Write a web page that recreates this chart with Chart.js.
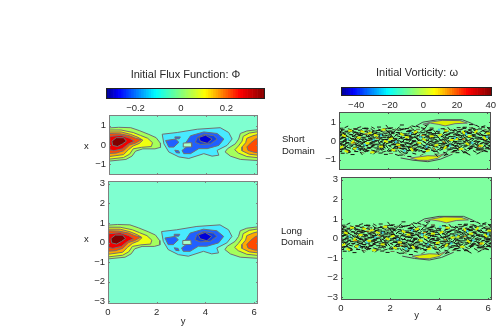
<!DOCTYPE html>
<html><head><meta charset="utf-8">
<script src="https://cdn.jsdelivr.net/npm/chart.js@4"></script>
<style>
html,body{margin:0;padding:0;background:#fff;width:500px;height:327px;overflow:hidden}
canvas{position:absolute;left:0;top:0}
.lb{position:absolute;font:9.5px "Liberation Sans",sans-serif;color:#222;white-space:pre;line-height:11px}
</style></head><body>
<script>
// ---- tick labels
const fluxBarTicks=[-0.2,0,0.2];
const vortBarTicks=[-40,-20,0,20,40];
const shortTicks=[-1,0,1];
const longTicks=[-3,-2,-1,0,1,2,3];
const horizTicks=[0,2,4,6];
const jetStops=['#000090','#0000ff','#00ffff','#ffff00','#ff0000','#800000'];
const jetPos=[0,0.08,0.31,0.62,0.84,1];
// ---- flux contours [y, x]
const fluxRed=[
 {c:'#a4ff5c',p:[[-0.1,.88],[.4,.92],[.9,.9],[1.25,.75],[1.65,.55],[1.95,.38],[2.12,.1],[2.13,-.12],[1.9,-.2],[1.4,-.2],[1.1,-.32],[.95,-.58],[.7,-.75],[-0.1,-.85]]},
 {c:'#eeff10',p:[[-0.1,.78],[.5,.78],[1,.65],[1.3,.5],[1.6,.35],[1.8,.12],[1.75,-.08],[1.35,-.12],[1,-.2],[.85,-.48],[.6,-.65],[-0.1,-.75]]},
 {c:'#ffa800',p:[[-0.1,.68],[.5,.68],[.9,.55],[1.2,.4],[1.4,.25],[1.25,.08],[1,-.05],[.8,-.25],[.6,-.5],[-0.1,-.62]]},
 {c:'#ff4a00',p:[[-0.1,.6],[.45,.58],[.85,.48],[1.1,.35],[1.35,.28],[1.1,.1],[.85,0],[.6,-.3],[.3,-.42],[-0.1,-.45]]},
 {c:'#f00000',p:[[.03,.45],[.5,.5],[.85,.35],[1.05,.2],[.8,.05],[.55,-.2],[.2,-.3],[.03,-.25]]},
 {c:'#800000',p:[[.12,.2],[.3,.38],[.6,.38],[.72,.2],[.55,.05],[.35,-.08],[.15,-.02]]}
];
const fluxEdge=[
 {c:'#a4ff5c',p:[[6.3,.82],[5.7,.73],[5.43,.6],[5.36,.31],[5.22,.06],[4.9,-.19],[4.8,-.36],[5.02,-.58],[5.43,-.75],[6.3,-.82]]},
 {c:'#eeff10',p:[[6.3,.72],[5.8,.62],[5.55,.45],[5.5,.2],[5.35,-.05],[5.2,-.25],[5.35,-.42],[5.7,-.6],[6.3,-.68]]},
 {c:'#ffa800',p:[[6.3,.6],[5.95,.48],[5.7,.35],[5.65,.12],[5.5,-.1],[5.5,-.3],[5.8,-.48],[6.3,-.55]]},
 {c:'#ff4a00',p:[[6.3,.42],[6.05,.3],[5.85,.1],[5.7,-.1],[5.75,-.28],[6,-.38],[6.3,-.42]]}
];
const fluxBlue=[
 {c:'#48eaff',p:[[2.2,.56],[2.82,.65],[3.65,.82],[4.6,.9],[4.95,.65],[5.09,.31],[4.88,-.02],[4.47,-.28],[4.54,-.53],[4.26,-.58],[3.92,-.45],[3.3,-.7],[2.89,-.62],[2.47,-.36],[2.27,.06]]},
 {c:'#2060ff',p:[[3.16,.09],[3.37,.48],[3.92,.68],[4.47,.6],[4.75,.31],[4.54,-.02],[4.06,-.19],[3.71,-.19],[3.37,-.45],[3.09,-.45],[3.02,-.28],[3.2,-.11]]},
 {c:'#2060ff',p:[[2.34,.23],[2.75,.31],[2.89,.14],[2.68,-.11],[2.47,-.11]]},
 {c:'#2060ff',p:[[2.72,-.27],[2.88,-.3],[2.92,-.42],[2.78,-.4]]},
 {c:'#2060ff',p:[[2.72,.42],[2.95,.42],[2.9,.32],[2.75,.33]]},
 {c:'#aaffc8',p:[[3.07,.1],[3.4,.12],[3.42,-.1],[3.07,-.1]]},
 {c:'#1040e8',p:[[3.65,.39],[3.92,.56],[4.33,.48],[4.47,.31],[4.2,.06],[3.78,.03],[3.57,.14]]},
 {c:'#0000d8',p:[[3.71,.39],[3.99,.51],[4.26,.31],[4.06,.09],[3.78,.19]]}
];
// ---- vorticity band: row heights and the positions of the contour fragments on each row
const bandRows=[.82,.72,.62,.52,.42,.32,.22,.12,.02,-.08,-.18,-.28,-.38,-.48,-.58,-.68,-.78];
const bandShift=[.03,-.04,.02,.05,-.03,-.06,.04,.01,-.05,.06,-.02,.03,-.04];
const bandTilt=[0,15,-15,0,30,-25,0,0,50,-45,0,20];
const bandDark=[
 [2.55,3.02,3.55,5.35,5.62],
 [.3,1.1,1.62,1.95,2.4,2.75,3.2,5.1,5.45,5.85,6.1],
 [.05,.42,.7,1.02,1.35,1.75,2.05,2.52,2.9,3.4,3.72,4.2,4.72,5.03,5.3,5.72,6.05],
 [.1,.3,.55,.85,1.1,1.32,1.6,1.95,2.2,2.45,2.8,3.05,3.3,3.65,4,4.35,4.6,4.85,5.2,5.5,5.8,6.1],
 [0,.2,.4,.62,.9,1.05,1.3,1.48,1.72,2,2.15,2.38,2.7,2.88,3.12,3.4,3.6,3.85,4.12,4.3,4.55,4.82,5.05,5.3,5.52,5.75,5.95,6.15],
 [.08,.25,.5,.72,.88,1.15,1.4,1.6,1.85,2.05,2.3,2.52,2.75,3,3.22,3.48,3.7,3.95,4.2,4.42,4.7,4.95,5.15,5.42,5.65,5.88,6.08],
 [0,.18,.35,.6,.8,1.02,1.22,1.5,1.68,1.95,2.12,2.42,2.62,2.85,3.1,3.32,3.58,3.8,4.05,4.32,4.52,4.78,5,5.25,5.48,5.72,5.98,6.16],
 [.1,.3,.48,.7,.95,1.12,1.35,1.58,1.8,2.02,2.25,2.48,2.72,2.92,3.18,3.42,3.62,3.9,4.15,4.38,4.6,4.88,5.1,5.35,5.58,5.82,6.05],
 [0,.22,.42,.62,.82,1.05,1.28,1.45,1.72,1.9,2.18,2.35,2.58,2.8,3.02,3.28,3.52,3.75,3.98,4.25,4.48,4.7,4.95,5.18,5.42,5.65,5.9,6.12],
 [.12,.32,.55,.75,.98,1.18,1.4,1.62,1.85,2.08,2.3,2.55,2.75,3,3.2,3.45,3.68,3.92,4.12,4.4,4.62,4.85,5.08,5.3,5.55,5.78,6,6.16],
 [.02,.2,.45,.68,.88,1.1,1.32,1.55,1.78,1.98,2.22,2.45,2.65,2.9,3.12,3.35,3.6,3.82,4.08,4.28,4.55,4.75,5,5.22,5.48,5.7,5.95],
 [.1,.28,.5,.72,.95,1.2,1.38,1.62,1.82,2.1,2.32,2.52,2.78,3,3.25,3.48,3.72,3.95,4.18,4.42,4.68,4.9,5.12,5.38,5.6,5.85,6.1],
 [0,.22,.4,.65,.85,1.08,1.3,1.52,1.75,1.95,2.2,2.42,2.68,2.88,3.1,3.38,3.58,3.85,4.05,4.32,4.58,4.8,5.05,5.28,5.55,5.8,6.02],
 [.08,.35,.6,.92,1.15,1.45,1.7,2,2.28,2.55,2.82,3.05,3.3,3.55,3.8,4.15,4.45,4.72,5,5.3,5.65,5.95,6.12],
 [.05,.38,.7,1.02,1.35,1.68,2.05,2.45,2.75,3.08,3.42,3.9,4.3,4.65,5.1,5.5,5.85],
 [.15,.55,.9,1.45,1.9,2.35,2.7,3.05,4.35,4.8,5.25,5.65],
 [2.5,2.85,3.95,4.3]
];
const bandOliveY=[.15,.65,1.2,1.85,2.35,2.85,3.2,3.75,4.45,4.95,5.35,5.95,.4,.95,1.55,2.1,2.6,3.35,3.95,4.6,5.15,5.75,.05,.75,1.35,1.9,2.55,3.05,3.6,4.2,4.85,5.6,6.1];
const bandOliveX=[.58,.64,.55,.66,.6,.72,.62,.7,.66,.62,.7,.6,-.55,-.62,-.58,-.66,-.72,-.74,-.7,-.6,-.62,-.56,.47,.37,.27,.47,.37,-.33,-.43,-.23,-.43,-.33,-.43];
const bandYellowY=[.45,.95,1.25,1.8,2.55,3.1,3.75,4.35,5.05,5.55,6.05,.2,.8,1.5,2.1,2.75,3.45,4.1,4.75,5.3,5.9,.55,1.15,1.9,2.4,3.25,3.95,4.55,5.2,.1,.65,1.7,2.95,4.3,5.75,.3,1.35,2.2,3.6,4.95];
const bandYellowX=[.55,.5,.42,.6,.35,.48,.25,.55,.45,.5,.4,.28,.18,.3,.12,.2,.08,.32,.1,.25,.15,-.05,-.12,-.02,-.2,-.1,-.22,.05,-.15,-.32,-.4,-.3,-.45,-.35,-.25,-.55,-.6,-.48,-.52,-.42];
const bandCyanY=[.35,1.05,1.7,2.3,2.9,3.55,4.05,4.7,5.4,6,.75,1.4,2.65,3.3,4.5,5.15];
const bandCyanX=[.1,-.2,.3,-.05,.42,-.3,.6,.15,-.1,.22,-.42,.05,-.52,.2,-.25,.38];
const bandOrangeY=[.6,1.55,2.45,3.4,4.25,5.05,5.7,1.1,3.85];
const bandOrangeX=[-.1,.15,-.35,.3,-.05,.1,-.28,.38,-.42];
const vortUpper=[[3.4,.88],[3.7,1],[4.2,1.1],[4.9,1.08],[5.2,.95],[4.7,.92],[4.3,.8],[4.05,.88],[3.7,.95]];
const vortLower=[[2.9,-.9],[3.2,-.85],[3.6,-.78],[4,-.8],[4.3,-.65],[4,-.92],[3.6,-1.03],[3.2,-1.02]];
const vortUpperEdge=[[3.1,.78],[3.4,1],[4,1.13],[5,1.13],[5.35,.95],[5.55,.82]];
const vortLowerEdge=[[2.5,-.9],[3,-1.02],[3.6,-1.1],[4.1,-.97],[4.6,-.7]];

const FONT='"Liberation Sans", sans-serif';
const INK='#2a2a2a';
function pt(a){return a.map(q=>({x:q[0],y:q[1]}));}
function poly(o){
 const d=pt(o.p.concat([o.p[0]]));
 return {type:'scatter',showLine:true,data:d,fill:'shape',backgroundColor:o.c,borderColor:'#707070',borderWidth:1,pointRadius:0,tension:0};
}
function marks(ys,xs,color,width,r){
 return {type:'scatter',data:ys.map((v,i)=>({x:v,y:xs[i]})),pointStyle:'line',pointRadius:r,pointRotation:ys.map((v,i)=>bandTilt[i%bandTilt.length]),borderColor:color,backgroundColor:color,borderWidth:width,showLine:false};
}
function edgeLine(a){return {type:'scatter',showLine:true,data:pt(a),fill:false,borderColor:'#4a4a4a',borderWidth:1,pointRadius:0};}
function minus(v){return String(v).replace('-','\u2212');}
function mk(){const c=document.createElement('canvas');c.width=500;c.height=327;c.style.width='500px';c.style.height='327px';document.body.appendChild(c);return c;}

const framePlugin={id:'frame',
 beforeDatasetsDraw(ch,a,o){const r=ch.chartArea,g=ch.ctx;if(o.bg){g.save();g.fillStyle=o.bg;g.fillRect(r.left,r.top,r.width,r.height);g.restore();}},
 afterDraw(ch,a,o){const r=ch.chartArea,g=ch.ctx;g.save();g.strokeStyle=o.line;g.lineWidth=1;
  g.strokeRect(Math.round(r.left)+.5,Math.round(r.top)+.5,Math.round(r.width)-1,Math.round(r.height)-1);
  if(o.ticks){g.beginPath();
   for(const k of ['x','y']){const s=ch.scales[k];if(!s)continue;(s.ticks||[]).forEach(t=>{const p=Math.round(s.getPixelForValue(t.value))+.5;
     if(k==='x'){g.moveTo(p,r.bottom);g.lineTo(p,r.bottom-2);g.moveTo(p,r.top);g.lineTo(p,r.top+2);}
     else{g.moveTo(r.left,p);g.lineTo(r.left+2,p);g.moveTo(r.right,p);g.lineTo(r.right-2,p);}});}
   g.stroke();}
  g.restore();}
};

function panel(o){
 const yW=24, xH=o.xLabel?o.xH:0;
 new Chart(mk(),{type:'scatter',data:{datasets:o.datasets},plugins:[framePlugin],options:{
  responsive:false,animation:false,devicePixelRatio:1,events:[],
  layout:{padding:{left:o.l-yW,right:500-o.r,top:o.t,bottom:327-o.b-xH}},
  plugins:{legend:{display:false},tooltip:{enabled:false},frame:{bg:o.bg,line:o.line,ticks:true}},
  scales:{
   x:{type:'linear',min:0,max:6.16,display:!!o.xLabel,
    afterBuildTicks:s=>{s.ticks=horizTicks.map(v=>({value:v}));},
    afterFit:s=>{s.height=xH;},
    grid:{display:false,drawTicks:false},border:{display:false},
    ticks:{color:INK,font:{family:FONT,size:9.5},padding:3,maxRotation:0,callback:minus},
    title:{display:!!o.xLabel,text:o.xLabel||'',color:INK,padding:0,font:{family:FONT,size:9.5}}},
   y:{type:'linear',min:-o.ext,max:o.ext,
    afterBuildTicks:s=>{s.ticks=o.ticks.map(v=>({value:v}));},
    afterFit:s=>{s.width=yW;},
    grid:{display:false,drawTicks:false},border:{display:false},
    ticks:{color:INK,font:{family:FONT,size:9.5},padding:3,callback:minus}}
  }}});
}
function hexMix(t){
 let i=0;while(i<jetPos.length-2&&t>jetPos[i+1])i++;
 const f=(t-jetPos[i])/(jetPos[i+1]-jetPos[i]);
 const a=jetStops[i],b=jetStops[i+1];
 const ch=k=>Math.round(parseInt(a.substr(k,2),16)*(1-f)+parseInt(b.substr(k,2),16)*f);
 return `rgb(${ch(1)},${ch(3)},${ch(5)})`;
}
function colorbar(o){
 const n=64,ds=[];
 for(let i=0;i<n;i++){const a=o.min+(o.max-o.min)*i/n,b=o.min+(o.max-o.min)*(i+1)/n;
  ds.push({data:[[a,b]],backgroundColor:hexMix((i+.5)/n),borderWidth:0,grouped:false,barPercentage:1,categoryPercentage:1,borderSkipped:false});}
 const fs=11,lh=fs*1.2,H=16;
 new Chart(mk(),{type:'bar',data:{labels:['c'],datasets:ds},plugins:[framePlugin],options:{
  indexAxis:'y',responsive:false,animation:false,devicePixelRatio:1,events:[],
  layout:{padding:{left:o.l,right:500-o.r,top:o.titleY-lh/2,bottom:327-o.b-H}},
  plugins:{legend:{display:false},tooltip:{enabled:false},frame:{line:'#222',ticks:false},
   title:{display:true,text:o.title,color:INK,font:{family:FONT,size:fs,weight:'normal',lineHeight:1.2},padding:{top:0,bottom:o.t-(o.titleY+lh/2)}}},
  scales:{
   x:{type:'linear',min:o.min,max:o.max,
    afterBuildTicks:s=>{s.ticks=o.ticks.map(v=>({value:v}));},
    afterFit:s=>{s.height=H;},
    grid:{display:false,drawTicks:false},border:{display:false},
    ticks:{color:INK,font:{family:FONT,size:9.5},padding:4,maxRotation:0,callback:minus}},
   y:{display:false,grid:{display:false}}
  }}});
}
function fluxSets(){return [...fluxBlue.slice().reverse(),...fluxEdge.slice().reverse(),...fluxRed.slice().reverse()].map(poly);}
function vortSets(){
 const ry=[],rx=[],sy=[],sx=[];
 bandDark.forEach((row,i)=>row.forEach((v,j)=>{
  ry.push(v);rx.push(bandRows[i]+bandShift[j%bandShift.length]);
  if(i>1&&i<15){sy.push(v+bandShift[(j+4)%bandShift.length]+.08);sx.push(bandRows[i]+.05+bandShift[(j+7)%bandShift.length]);}
 }));
 return [
  marks(bandCyanY,bandCyanX,'#35c8e8',2,1),
  marks(bandOrangeY,bandOrangeX,'#e89000',1,1.5),
  marks(bandYellowY,bandYellowX,'#dcef00',2,2),
  marks(ry,rx,'#14140e',1,2),
  marks(sy,sx,'#2c2c20',1,2),
  marks(bandOliveY,bandOliveX,'#6a6a48',1,2),
  edgeLine(vortUpperEdge),edgeLine(vortLowerEdge),
  poly({c:'#dcf000',p:vortUpper}),poly({c:'#dcf000',p:vortLower})
 ];
}
colorbar({l:106,r:265,t:88,b:99,titleY:75,title:'Initial Flux Function: \u03A6',min:-0.33,max:0.37,ticks:fluxBarTicks});
colorbar({l:341,r:493,t:87,b:96,titleY:73,title:'Initial Vorticity: \u03C9',min:-49,max:40.5,ticks:vortBarTicks});
panel({l:109,r:258,t:115,b:175,ext:1.56,ticks:shortTicks,bg:'#7fffd0',line:'#808080',datasets:fluxSets()});
panel({l:108,r:258,t:181,b:304,ext:3.14,ticks:longTicks,bg:'#7fffd0',line:'#808080',xLabel:'y',xH:23,datasets:fluxSets()});
panel({l:339,r:491,t:112,b:170,ext:1.54,ticks:shortTicks,bg:'#7fffa0',line:'#505050',datasets:vortSets()});
panel({l:341,r:492,t:177,b:300,ext:3.14,ticks:longTicks,bg:'#7fffa0',line:'#505050',xLabel:'y',xH:21,datasets:vortSets()});
[['x',84,140],['x',84,233],['Short',282,133],['Domain',282,145],['Long',281,225],['Domain',281,236]].forEach(a=>{
 const d=document.createElement('div');d.className='lb';d.textContent=a[0];d.style.left=a[1]+'px';d.style.top=a[2]+'px';document.body.appendChild(d);
});
</script>
</body></html>
